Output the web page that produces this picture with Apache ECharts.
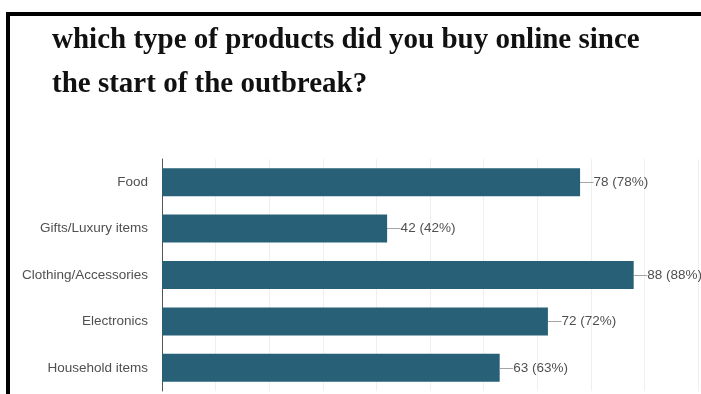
<!DOCTYPE html>
<html>
<head>
<meta charset="utf-8">
<style>
  html, body { margin: 0; padding: 0; background: #ffffff; }
  #chart { width: 701px; height: 394px; }
</style>
<script src="https://cdn.jsdelivr.net/npm/echarts@6/dist/echarts.min.js"></script>
</head>
<body>
<div id="chart"></div>
<script>
// Survey question and answers
const titleLines = [
  'which type of products did you buy online since',
  'the start of the outbreak?'
];
const categories = ['Food', 'Gifts/Luxury items', 'Clothing/Accessories', 'Electronics', 'Household items'];
const counts = [78, 42, 88, 72, 63];
const percents = [78, 42, 88, 72, 63];

const chart = echarts.init(document.getElementById('chart'), null, { renderer: 'canvas' });

const titleFont = 'bold 29px "Liberation Serif", "Times New Roman", serif';
const labelFont = '"Liberation Sans", Arial, sans-serif';

chart.setOption({
  animation: false,
  backgroundColor: '#ffffff',
  grid: { left: 162, right: 3, top: 159, bottom: 3, containLabel: false },
  xAxis: {
    type: 'value',
    min: 0,
    max: 100,
    interval: 10,
    axisLabel: { show: false },
    axisTick: { show: false },
    axisLine: { show: false },
    splitLine: { show: true, lineStyle: { color: '#efefef', width: 1 } }
  },
  yAxis: {
    type: 'category',
    data: categories,
    inverse: true,
    axisTick: { show: false },
    axisLine: { show: true, lineStyle: { color: '#555555', width: 1 } },
    axisLabel: {
      margin: 14,
      color: '#505050',
      fontFamily: labelFont,
      fontSize: 13.5
    }
  },
  series: [{
    type: 'bar',
    data: counts,
    barWidth: 28,
    itemStyle: { color: '#276077' },
    label: {
      show: true,
      position: 'right',
      distance: 0,
      formatter: function (p) {
        return '{d|\u2014}{t|' + counts[p.dataIndex] + ' (' + percents[p.dataIndex] + '%)}';
      },
      rich: {
        d: { color: '#9a9a9a', fontSize: 13.5, fontFamily: labelFont },
        t: { color: '#505050', fontSize: 13.5, fontFamily: labelFont }
      }
    }
  }],
  graphic: [
    { type: 'rect', shape: { x: 6, y: 12, width: 695, height: 4 }, style: { fill: '#000000' }, z: 100 },
    { type: 'rect', shape: { x: 6, y: 12, width: 4, height: 382 }, style: { fill: '#000000' }, z: 100 },
    { type: 'text', x: 52, y: 41, style: { text: titleLines[0], font: titleFont, fill: '#111111', verticalAlign: 'middle' }, z: 100 },
    { type: 'text', x: 52, y: 85, style: { text: titleLines[1], font: titleFont, fill: '#111111', verticalAlign: 'middle' }, z: 100 }
  ]
});
</script>
</body>
</html>
